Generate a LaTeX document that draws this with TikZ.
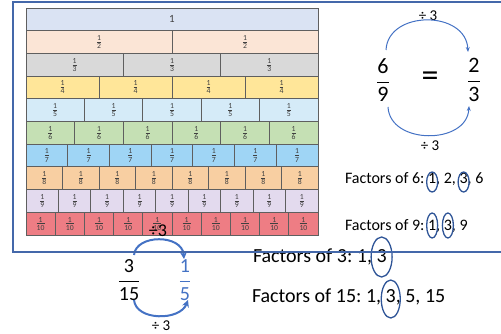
\documentclass[tikz,border=0pt]{standalone}
\usepackage{amsmath}
\usepackage{fontspec}
\setmainfont{Carlito}
\usetikzlibrary{positioning,arrows.meta,calc}
\frenchspacing

\definecolor{rowi}{HTML}{DAE3F3}
\definecolor{rowii}{HTML}{FBE5D6}
\definecolor{rowiii}{HTML}{D9D9D9}
\definecolor{rowiv}{HTML}{FFE699}
\definecolor{rowv}{HTML}{D5EBF8}
\definecolor{rowvi}{HTML}{C5E0B4}
\definecolor{rowvii}{HTML}{9FD5F5}
\definecolor{rowviii}{HTML}{F8CFA2}
\definecolor{rowix}{HTML}{E3DAEE}
\definecolor{rowx}{HTML}{EE7D84}
\definecolor{cellgrey}{HTML}{5F5F5F}
\definecolor{arcblue}{HTML}{4472C4}
\definecolor{ringblue}{HTML}{2F5597}
\definecolor{frameblue}{HTML}{4468AA}

\newcommand{\walllabel}[1]{\ifnum#1=1 1\else$\frac{\text{1}}{\text{#1}}$\fi}
\newcommand{\facsp}{\ \null}

\tikzset{
  cell/.style={draw=cellgrey, line width=0.8pt},
  walltext/.style={inner sep=0pt, text=black!75, font=\fontsize{11}{13}\selectfont},
  bigfrac/.style={inner sep=0pt, font=\fontsize{22}{24}\selectfont},
  midfrac/.style={inner sep=0pt, font=\fontsize{20}{22}\selectfont},
  divtext/.style={inner sep=0pt, font=\fontsize{15}{17}\selectfont},
  arcline/.style={draw=arcblue, line width=1pt, -{Stealth[length=5pt,width=4pt]}},
  thickarc/.style={draw=arcblue, line width=2pt, -{Stealth[length=7pt,width=7pt]}},
  ring/.style={draw=ringblue, line width=1.3pt},
  fac/.style={inner sep=0pt, outer sep=0pt, anchor=base west},
  frameline/.style={draw=frameblue, line width=1.4pt},
}

\begin{document}
\begin{tikzpicture}[x=1pt,y=-1pt]
\useasboundingbox (0,0) rectangle (501,334);

% fraction wall
\foreach \n/\col in {1/rowi,2/rowii,3/rowiii,4/rowiv,5/rowv,6/rowvi,7/rowvii,8/rowviii,9/rowix,10/rowx}
  \foreach \k in {1,...,\n}
  {
    \draw[cell, fill=\col] ({26+(\k-1)*292/\n},{8+(\n-1)*22.7}) rectangle ({26+\k*292/\n},{8+\n*22.7});
    \node[walltext] (w\n-\k) at ({26+(\k-0.5)*292/\n},{8+(\n-0.5)*22.7}) {\walllabel{\n}};
  }

% 6/9 = 2/3
\node[bigfrac] (sixnine) at (383,80) {$\dfrac{\text{6}}{\text{9}}$};
\node[bigfrac, font=\fontsize{34}{36}\selectfont] (equal) at (430,79) {=};
\node[bigfrac] (twothree) at (474,80) {$\dfrac{\text{2}}{\text{3}}$};
\node[divtext] (divtop) at (428,16) {÷ 3};
\node[divtext] (divbot) at (430,146) {÷ 3};
\coordinate (ta) at (386,50);
\coordinate (tb) at (468,52);
\coordinate (ba) at (388,107);
\coordinate (bb) at (469,106);
\draw[arcline] (ta) .. controls (388,10) and (466,10) .. (tb);
\draw[arcline] (ba) .. controls (390,145) and (467,145) .. (bb);

% factors of 6 and 9
\begin{scope}[font=\fontsize{16}{18}\selectfont]
\node[fac] (f6a) at (345,183) {Factors of 6:\facsp};
\node[fac] (f6b) at (f6a.base east) {1};
\node[fac] (f6c) at (f6b.base east) {,\ 2,\facsp};
\node[fac] (f6d) at (f6c.base east) {3};
\node[fac] (f6e) at (f6d.base east) {,\ 6};
\node[fac] (f9a) at (345,230) {Factors of 9:\facsp};
\node[fac] (f9b) at (f9a.base east) {1};
\node[fac] (f9c) at (f9b.base east) {,\facsp};
\node[fac] (f9d) at (f9c.base east) {3};
\node[fac] (f9e) at (f9d.base east) {,\ 9};
\end{scope}
\draw[ring] ([yshift=1pt]f6b.base) ellipse (5.5 and 10);
\draw[ring] ([yshift=1pt]f6d.base) ellipse (5.5 and 10);
\draw[ring] ([yshift=4.5pt]f9b.base) ellipse (5.5 and 12.5);
\draw[ring] ([yshift=4.5pt]f9d.base) ellipse (5.5 and 12.5);

% 3/15 = 1/5
\node[midfrac] (threefift) at (129,280) {$\dfrac{\text{3}}{\text{15}}$};
\node[midfrac, text=arcblue] (onefifth) at (185,280) {$\dfrac{\text{1}}{\text{5}}$};
\node[inner sep=0pt, font=\fontsize{18}{20}\selectfont] (divover) at (158,231) {÷3};
\node[inner sep=0pt, font=\fontsize{15}{17}\selectfont] (divunder) at (161,326) {÷ 3};
\coordinate (la) at (134,255);
\coordinate (lb) at (184,259);
\coordinate (lc) at (134,300);
\coordinate (ld) at (188,300);
\draw[thickarc] (la) .. controls (136,234) and (182,234) .. (lb);
\draw[thickarc] (lc) .. controls (136,321) and (180,321) .. (ld);

% factors of 3 and 15
\begin{scope}[font=\fontsize{20}{22}\selectfont]
\node[fac] (f3a) at (253,262) {Factors of 3: 1,\facsp};
\node[fac] (f3b) at (f3a.base east) {3};
\node[fac] (f15a) at (252,302) {Factors of 15: 1,\facsp};
\node[fac] (f15b) at (f15a.base east) {3};
\node[fac] (f15c) at (f15b.base east) {,\ 5,\ 15};
\end{scope}
\draw[ring] ([yshift=5pt]f3b.base) ellipse (10.5 and 20);
\draw[ring] ([yshift=3pt]f15b.base) ellipse (9.5 and 19);

% frame
\draw[frameline] (501,2) -- (13,2) -- (13,252) -- (501,252);
\end{tikzpicture}
\end{document}
